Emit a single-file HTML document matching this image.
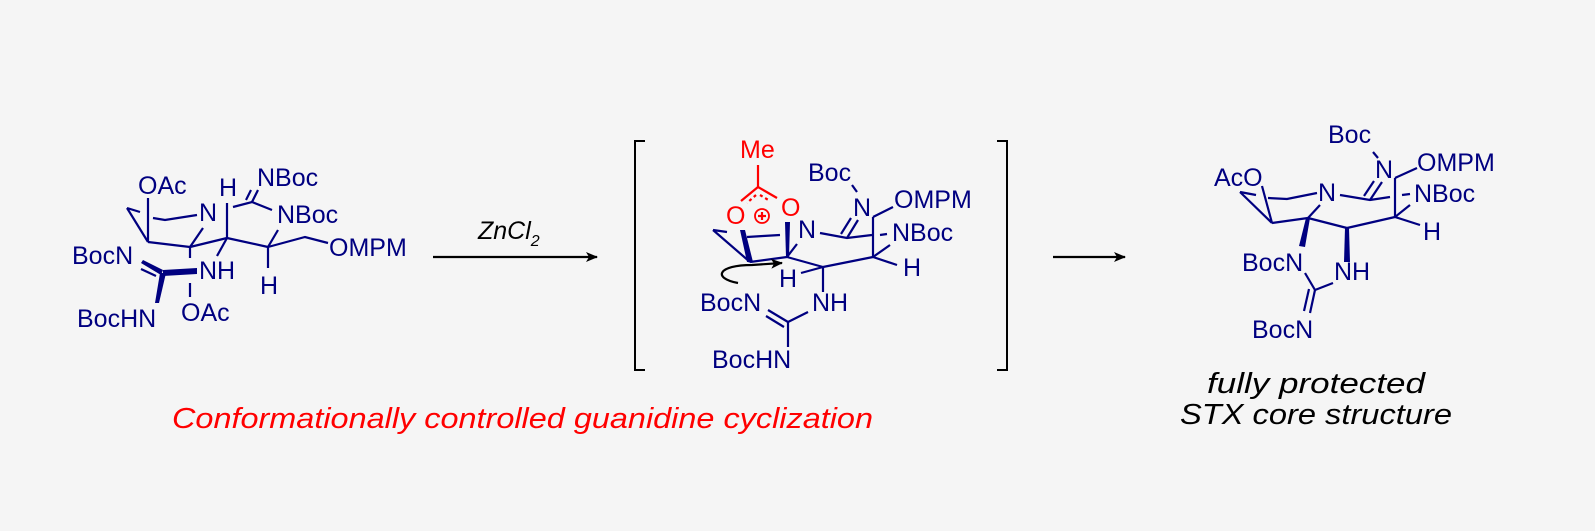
<!DOCTYPE html>
<html><head><meta charset="utf-8"><style>
html,body{margin:0;padding:0;background:#f5f5f5;}
svg{display:block}
text{font-family:"Liberation Sans",Arial,sans-serif;}
.b text{fill:#000080;font-size:25px;dominant-baseline:central;}
.b line,.b polyline{stroke:#000080;stroke-width:2.2;fill:none;}
.r text{fill:#ff0000;font-size:25px;dominant-baseline:central;}
.r line{stroke:#ff0000;stroke-width:2.2;}
</style></head><body>
<svg width="1595" height="531" viewBox="0 0 1595 531" xmlns="http://www.w3.org/2000/svg">
<rect width="1595" height="531" fill="#f5f5f5"/>
<defs><marker id="ah" markerWidth="12" markerHeight="10" refX="11" refY="5" orient="auto" markerUnits="userSpaceOnUse"><path d="M0,0 L12,5 L0,10 L3,5 z" fill="#000"/></marker></defs>

<!-- Structure 1 -->
<g class="b">
<line x1="127" y1="208" x2="148" y2="242"/>
<line x1="127" y1="208" x2="140" y2="212"/>
<line x1="148" y1="198" x2="148" y2="242"/>
<polyline points="153,218 165,220 197,215"/>
<line x1="148" y1="242" x2="190" y2="247"/>
<line x1="190" y1="247" x2="203" y2="228"/>
<line x1="190" y1="247" x2="227" y2="238"/>
<line x1="227" y1="238" x2="227" y2="203"/>
<line x1="217" y1="256" x2="227" y2="238"/>
<line x1="227" y1="238" x2="268" y2="247"/>
<line x1="268" y1="247" x2="278" y2="230"/>
<polyline points="233,207 252,202 272,210"/>
<line x1="252" y1="202" x2="258" y2="190"/>
<line x1="246" y1="200" x2="251" y2="190"/>
<line x1="268" y1="247" x2="268" y2="268"/>
<polyline points="268,247 305,237 328,243"/>
<line x1="190" y1="247" x2="190" y2="258"/>
<line x1="190" y1="283" x2="190" y2="297"/>
<polygon points="163,270 197,268 197,274 163,276" fill="#000080"/>
<polygon points="143,260 163,270 161,275 141,263" fill="#000080"/>
<line x1="141" y1="269" x2="156" y2="276"/>
<polygon points="160,273 166,273 159,303 155,303" fill="#000080"/>
<text x="138" y="186">OAc</text>
<text x="199" y="213">N</text>
<text x="219" y="188">H</text>
<text x="257" y="178">NBoc</text>
<text x="277" y="215">NBoc</text>
<text x="329" y="248">OMPM</text>
<text x="199" y="271">NH</text>
<text x="260" y="286">H</text>
<text x="72" y="256">BocN</text>
<text x="77" y="319">BocHN</text>
<text x="181" y="313">OAc</text>
</g>

<!-- arrow 1 -->
<text x="478" y="239" font-size="25" font-style="italic" fill="#000">ZnCl<tspan font-size="16" dy="7">2</tspan></text>
<line x1="433" y1="257" x2="597" y2="257" stroke="#000" stroke-width="2.2" marker-end="url(#ah)"/>

<!-- brackets -->
<polyline points="645,141 635,141 635,370 645,370" fill="none" stroke="#000" stroke-width="2"/>
<polyline points="997,141 1007,141 1007,370 997,370" fill="none" stroke="#000" stroke-width="2"/>

<!-- Structure 2 -->
<g class="r">
<text x="740" y="150">Me</text>
<line x1="758" y1="165" x2="758" y2="187"/>
<line x1="758" y1="187" x2="741" y2="201"/>
<line x1="758" y1="187" x2="777" y2="198"/>
<line x1="756" y1="195" x2="747" y2="203" stroke-dasharray="3,3"/>
<line x1="760" y1="195" x2="770" y2="201" stroke-dasharray="3,3"/>
<text x="726" y="216">O</text>
<text x="781" y="208">O</text>
<circle cx="762" cy="216" r="7" fill="none" stroke="#ff0000" stroke-width="1.8"/>
<line x1="758" y1="216" x2="766" y2="216" stroke-width="1.8"/>
<line x1="762" y1="212" x2="762" y2="220" stroke-width="1.8"/>
</g>
<g class="b">
<line x1="713" y1="230" x2="750" y2="262"/>
<line x1="713" y1="230" x2="727" y2="232"/>
<polygon points="740,230 745,230 753,262 747,262" fill="#000080"/>
<polyline points="747,237 763,236 780,235"/>
<polygon points="785,222 790,222 789,257 786,257" fill="#000080"/>
<line x1="750" y1="262" x2="787" y2="257"/>
<line x1="787" y1="257" x2="797" y2="244"/>
<polyline points="820,233 847,238 872,235"/>
<line x1="847" y1="238" x2="858" y2="220"/>
<line x1="841" y1="234" x2="851" y2="218"/>
<line x1="852" y1="185" x2="857" y2="192"/>
<line x1="873" y1="217" x2="893" y2="207"/>
<line x1="873" y1="217" x2="873" y2="257"/>
<line x1="880" y1="235" x2="887" y2="234"/>
<line x1="873" y1="257" x2="890" y2="245"/>
<line x1="873" y1="257" x2="897" y2="265"/>
<line x1="873" y1="257" x2="823" y2="267"/>
<line x1="787" y1="257" x2="823" y2="267"/>
<line x1="823" y1="267" x2="801" y2="273"/>
<line x1="823" y1="267" x2="823" y2="292"/>
<line x1="808" y1="312" x2="788" y2="322"/>
<line x1="788" y1="322" x2="768" y2="310"/>
<line x1="784" y1="327" x2="766" y2="316"/>
<line x1="788" y1="322" x2="788" y2="347"/>
<text x="798" y="230">N</text>
<text x="808" y="173">Boc</text>
<text x="853" y="208">N</text>
<text x="894" y="200">OMPM</text>
<text x="892" y="233">NBoc</text>
<text x="903" y="268">H</text>
<text x="779" y="279">H</text>
<text x="812" y="303">NH</text>
<text x="700" y="303">BocN</text>
<text x="712" y="360">BocHN</text>
</g>
<path d="M738,283 C712,278 718,265 752,265 L782,263" fill="none" stroke="#000" stroke-width="2.2" marker-end="url(#ah)"/>

<!-- arrow 2 -->
<line x1="1053" y1="257" x2="1125" y2="257" stroke="#000" stroke-width="2.2" marker-end="url(#ah)"/>

<!-- Structure 3 -->
<g class="b">
<text x="1214" y="178">AcO</text>
<text x="1328" y="135">Boc</text>
<line x1="1373" y1="152" x2="1378" y2="158"/>
<text x="1375" y="170">N</text>
<text x="1417" y="163">OMPM</text>
<line x1="1395" y1="178" x2="1417" y2="168"/>
<line x1="1395" y1="178" x2="1395" y2="217"/>
<line x1="1402" y1="195" x2="1410" y2="194"/>
<text x="1414" y="194">NBoc</text>
<line x1="1395" y1="217" x2="1410" y2="205"/>
<line x1="1395" y1="217" x2="1420" y2="225"/>
<text x="1423" y="232">H</text>
<line x1="1395" y1="217" x2="1347" y2="228"/>
<line x1="1308" y1="218" x2="1347" y2="228"/>
<polygon points="1345,228 1349,228 1350,262 1344,262" fill="#000080"/>
<text x="1334" y="272">NH</text>
<line x1="1272" y1="223" x2="1308" y2="218"/>
<line x1="1240" y1="192" x2="1272" y2="223"/>
<line x1="1240" y1="192" x2="1256" y2="195"/>
<line x1="1262" y1="186" x2="1272" y2="223"/>
<polyline points="1268,198 1287,199 1317,193"/>
<text x="1318" y="193">N</text>
<line x1="1308" y1="218" x2="1320" y2="205"/>
<polyline points="1340,195 1370,200 1390,197"/>
<line x1="1370" y1="200" x2="1382" y2="182"/>
<line x1="1364" y1="196" x2="1374" y2="181"/>
<polygon points="1306,218 1310,218 1305,247 1299,246" fill="#000080"/>
<text x="1242" y="263">BocN</text>
<line x1="1305" y1="273" x2="1315" y2="290"/>
<line x1="1315" y1="290" x2="1333" y2="283"/>
<line x1="1315" y1="290" x2="1310" y2="313"/>
<line x1="1309" y1="289" x2="1304" y2="311"/>
<text x="1252" y="330">BocN</text>
</g>

<!-- captions -->
<text x="172" y="428" textLength="701" lengthAdjust="spacingAndGlyphs" font-size="29" font-style="italic" fill="#ff0000">Conformationally controlled guanidine cyclization</text>
<text x="1207" y="393" textLength="218" lengthAdjust="spacingAndGlyphs" font-size="29" font-style="italic" fill="#000">fully protected</text>
<text x="1180" y="424" textLength="272" lengthAdjust="spacingAndGlyphs" font-size="29" font-style="italic" fill="#000">STX core structure</text>
</svg>
</body></html>
